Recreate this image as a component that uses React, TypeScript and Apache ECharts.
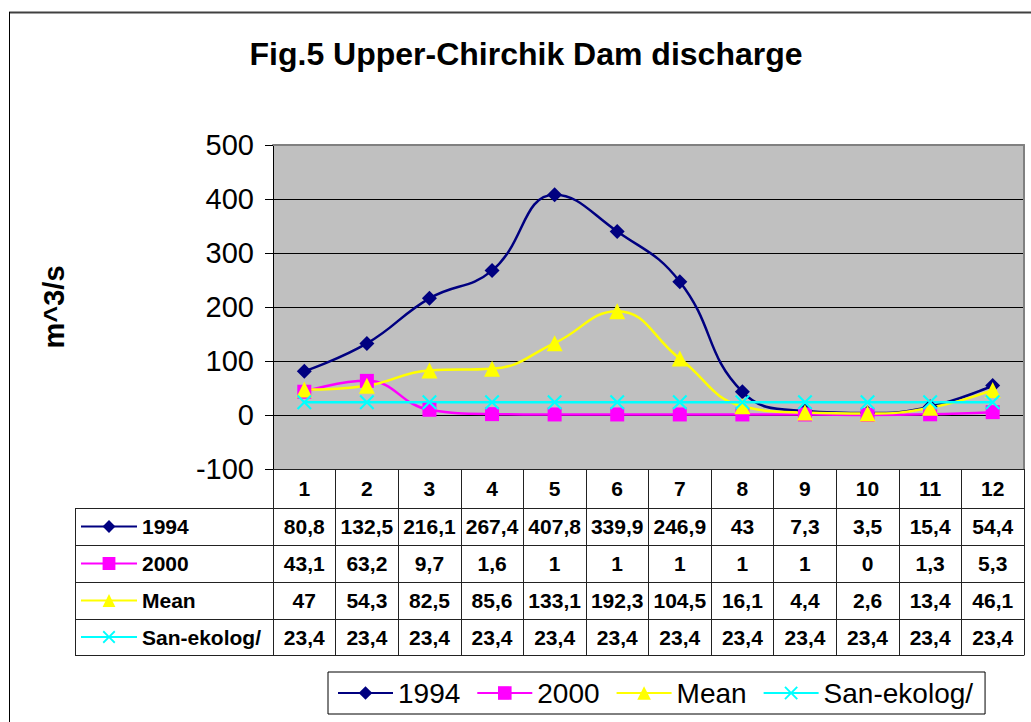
import { useEffect, useRef } from 'react';
import * as echarts from 'echarts';

const months = ['1', '2', '3', '4', '5', '6', '7', '8', '9', '10', '11', '12'];
const s1994 = [80.8, 132.5, 216.1, 267.4, 407.8, 339.9, 246.9, 43, 7.3, 3.5, 15.4, 54.4];
const s2000 = [43.1, 63.2, 9.7, 1.6, 1, 1, 1, 1, 1, 0, 1.3, 5.3];
const sMean = [47, 54.3, 82.5, 85.6, 133.1, 192.3, 104.5, 16.1, 4.4, 2.6, 13.4, 46.1];
const sSan = [23.4, 23.4, 23.4, 23.4, 23.4, 23.4, 23.4, 23.4, 23.4, 23.4, 23.4, 23.4];
const seriesNames = ['1994', '2000', 'Mean', 'San-ekolog/'];
const seriesData = [s1994, s2000, sMean, sSan];
const seriesColors = ['#000080', '#FF00FF', '#FFFF00', '#00FFFF'];
const yMin = -100;
const yMax = 500;
const yStep = 100;

const FONT = 'Arial, "Liberation Sans", sans-serif';
const X_PATH =
  'path://M0,1 L1,0 L5,4 L9,0 L10,1 L6,5 L10,9 L9,10 L5,6 L1,10 L0,9 L4,5 Z';
const symbols = ['diamond', 'rect', 'triangle', X_PATH];
const symbolSizes = [15, 14, 16, 15];

const fmt = (v: number) => String(v).replace('.', ',');

// layout
const gridLeft = 273;
const gridRight = 1024;
const gridTop = 145;
const gridBottom = 469;
const W = 1031;
const H = 722;
const headerBottom = 508;
const rowEdges = [508, 545, 582, 619, 655];
const tableLeft = 75;
const LINE = '#222';
const TABLE_FS = 21;

export default function App() {
  const ref = useRef<HTMLDivElement>(null);
  useEffect(() => {
    document.body.style.margin = '0';
    const chart = echarts.init(ref.current!, null, { renderer: 'svg' });

    const xAxes: any[] = [
      {
        type: 'category',
        data: months,
        position: 'bottom',
        axisLine: { show: true, onZero: false, lineStyle: { color: LINE, width: 1 } },
        axisTick: { show: true, length: headerBottom - gridBottom, lineStyle: { color: LINE } },
        axisLabel: {
          interval: 0,
          margin: (headerBottom - gridBottom) / 2,
          verticalAlign: 'middle',
          color: '#000',
          fontFamily: FONT,
          fontWeight: 'bold',
          fontSize: TABLE_FS,
        },
        splitLine: { show: false },
      },
    ];
    seriesData.forEach((arr, r) => {
      const h = rowEdges[r + 1] - rowEdges[r];
      xAxes.push({
        type: 'category',
        data: months,
        position: 'bottom',
        offset: rowEdges[r] - gridBottom,
        axisLine: { show: true, onZero: false, lineStyle: { color: LINE, width: 1 } },
        axisTick: { show: true, length: h, lineStyle: { color: LINE } },
        axisLabel: {
          interval: 0,
          margin: h / 2,
          verticalAlign: 'middle',
          color: '#000',
          fontFamily: FONT,
          fontWeight: 'bold',
          fontSize: TABLE_FS,
          formatter: (_v: string, i: number) => fmt(arr[i]),
        },
        splitLine: { show: false },
      });
    });
    xAxes.push({
      type: 'category',
      data: months,
      position: 'bottom',
      offset: rowEdges[4] - gridBottom,
      axisLine: { show: true, onZero: false, lineStyle: { color: LINE, width: 1 } },
      axisTick: { show: false },
      axisLabel: { show: false },
      splitLine: { show: false },
    });
    xAxes.push({
      type: 'category',
      data: months,
      position: 'top',
      axisLine: { show: true, onZero: false, lineStyle: { color: '#808080', width: 2 } },
      axisTick: { show: false },
      axisLabel: { show: false },
      splitLine: { show: false },
    });

    const graphic: any[] = [
      { type: 'line', shape: { x1: 9, y1: 12.5, x2: W, y2: 12.5 }, style: { stroke: '#404040', lineWidth: 2 } },
      { type: 'line', shape: { x1: 9.5, y1: 12, x2: 9.5, y2: H }, style: { stroke: '#000', lineWidth: 1 } },
      {
        type: 'text',
        x: 526,
        y: 54,
        style: {
          text: 'Fig.5 Upper-Chirchik Dam discharge',
          font: `bold 32px ${FONT}`,
          fill: '#000',
          align: 'center',
          verticalAlign: 'middle',
        },
      },
      { type: 'line', shape: { x1: tableLeft + 0.5, y1: rowEdges[0], x2: tableLeft + 0.5, y2: rowEdges[4] }, style: { stroke: LINE, lineWidth: 1 } },
    ];
    rowEdges.forEach((y) => {
      graphic.push({
        type: 'line',
        shape: { x1: tableLeft, y1: y + 0.5, x2: gridLeft, y2: y + 0.5 },
        style: { stroke: LINE, lineWidth: 1 },
      });
    });

    const legends: any[] = seriesNames.map((name, r) => ({
      data: [name],
      orient: 'vertical',
      left: 80,
      top: (rowEdges[r] + rowEdges[r + 1]) / 2 - 10.5,
      padding: 0,
      itemWidth: 56,
      itemHeight: 16,
      selectedMode: false,
      textStyle: { color: '#000', fontFamily: FONT, fontWeight: 'bold', fontSize: TABLE_FS, lineHeight: 21 },
    }));
    legends.push({
      data: seriesNames,
      orient: 'horizontal',
      left: 328,
      top: 672,
      padding: [7, 12, 7, 9],
      itemGap: 16,
      itemWidth: 55,
      itemHeight: 17,
      borderColor: '#000',
      borderWidth: 1,
      selectedMode: false,
      textStyle: { color: '#000', fontFamily: FONT, fontSize: 28, lineHeight: 28 },
    });

    const option: any = {
      animation: false,
      backgroundColor: '#fff',
      grid: {
        left: gridLeft,
        right: W - gridRight,
        top: gridTop,
        bottom: H - gridBottom,
        show: true,
        backgroundColor: '#C0C0C0',
        borderWidth: 0,
      },
      graphic,
      legend: legends,
      xAxis: xAxes,
      yAxis: [
        {
          type: 'value',
          min: yMin,
          max: yMax,
          interval: yStep,
          name: 'm^3/s',
          nameLocation: 'middle',
          nameGap: 205,
          nameRotate: 90,
          nameTextStyle: { color: '#000', fontFamily: FONT, fontWeight: 'bold', fontSize: 29 },
          axisLine: { show: true, lineStyle: { color: '#000', width: 1 } },
          axisTick: { show: true, length: 8, lineStyle: { color: '#000' } },
          axisLabel: { margin: 19, color: '#000', fontFamily: FONT, fontSize: 29 },
          splitLine: { show: true, lineStyle: { color: '#000', width: 1 } },
        },
        {
          type: 'value',
          min: yMin,
          max: yMax,
          interval: yStep,
          position: 'right',
          axisLine: { show: true, lineStyle: { color: '#808080', width: 2 } },
          axisTick: { show: false },
          axisLabel: { show: false },
          splitLine: { show: false },
        },
      ],
      series: seriesNames.map((name, i) => ({
        name,
        type: 'line',
        xAxisIndex: 0,
        yAxisIndex: 0,
        data: seriesData[i],
        smooth: 0.45,
        symbol: symbols[i],
        symbolSize: symbolSizes[i],
        showAllSymbol: true,
        lineStyle: { color: seriesColors[i], width: 2.5 },
        itemStyle: { color: seriesColors[i] },
      })),
    };

    chart.setOption(option);
    return () => chart.dispose();
  }, []);
  return <div ref={ref} style={{ width: W, height: H }} />;
}
